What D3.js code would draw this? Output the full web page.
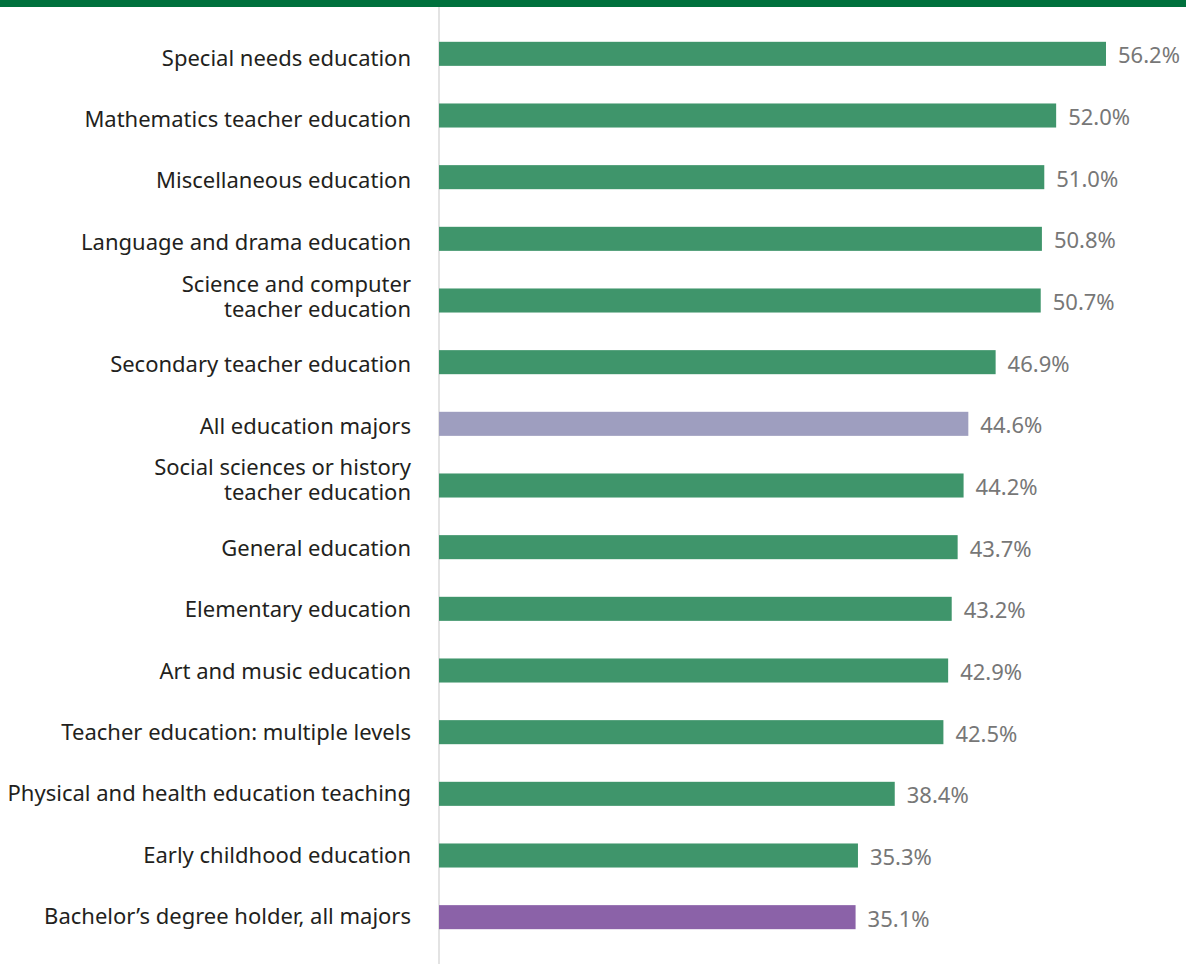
<!DOCTYPE html>
<html><head><meta charset="utf-8">
<script src="https://cdn.jsdelivr.net/npm/d3@7"></script>
<style>body{margin:0;background:#fff;} svg{display:block;}</style>
</head><body>
<svg id="chart" width="1186" height="964"></svg>
<script>
const categories = [
  ["Special needs education"],
  ["Mathematics teacher education"],
  ["Miscellaneous education"],
  ["Language and drama education"],
  ["Science and computer", "teacher education"],
  ["Secondary teacher education"],
  ["All education majors"],
  ["Social sciences or history", "teacher education"],
  ["General education"],
  ["Elementary education"],
  ["Art and music education"],
  ["Teacher education: multiple levels"],
  ["Physical and health education teaching"],
  ["Early childhood education"],
  ["Bachelor\u2019s degree holder, all majors"]
];
const values = [56.2, 52.0, 51.0, 50.8, 50.7, 46.9, 44.6, 44.2, 43.7, 43.2, 42.9, 42.5, 38.4, 35.3, 35.1];
const groups = ["edu","edu","edu","edu","edu","edu","all","edu","edu","edu","edu","edu","edu","edu","bach"];
const colors = {edu: "#3f956b", all: "#9e9ebf", bach: "#8b62a8"};

const svg = d3.select("#chart");
const W = 1186, H = 964;
const x0 = 439;
const x = d3.scaleLinear().domain([0, 56.2]).range([x0, 1106]);
const idx = d3.range(values.length);
const y = d3.scaleBand().domain(idx).range([23, 948]).paddingInner(0.61).paddingOuter(0.305);
const yl = d3.scaleLinear().domain([0, values.length - 1]).range([58, 916]);

svg.append("rect").attr("x", 0).attr("y", 0).attr("width", W).attr("height", 7).attr("fill", "#00713d");
svg.append("line").attr("x1", x0).attr("x2", x0).attr("y1", 7).attr("y2", H)
  .attr("stroke", "#e3e3e3").attr("stroke-width", 2);

const font = "'Noto Sans', 'Open Sans', sans-serif";
svg.selectAll("rect.bar").data(idx).join("rect").attr("class", "bar")
  .attr("x", x0).attr("y", i => y(i)).attr("height", y.bandwidth())
  .attr("width", i => x(values[i]) - x0).attr("fill", i => colors[groups[i]]);

svg.selectAll("text.val").data(idx).join("text").attr("class", "val")
  .attr("x", i => x(values[i]) + 12).attr("y", i => y(i) + y.bandwidth() / 2 + 1.5)
  .attr("dy", "0.36em").attr("font-family", font).attr("font-size", 22).attr("fill", "#777")
  .text(i => values[i].toFixed(1) + "%");

const lab = svg.selectAll("text.lab").data(idx).join("text").attr("class", "lab")
  .attr("x", 411).attr("text-anchor", "end").attr("font-family", font).attr("font-size", 22).attr("fill", "#231f20");
lab.each(function(i) {
  const lines = categories[i];
  const cy = yl(i) - (lines.length > 1 ? 7 : 0);
  const lh = 25;
  lines.forEach((t, k) => {
    d3.select(this).append("tspan").attr("x", 411)
      .attr("y", cy + (k - (lines.length - 1) / 2) * lh).attr("dy", "0.36em").text(t);
  });
});
</script>
</body></html>
